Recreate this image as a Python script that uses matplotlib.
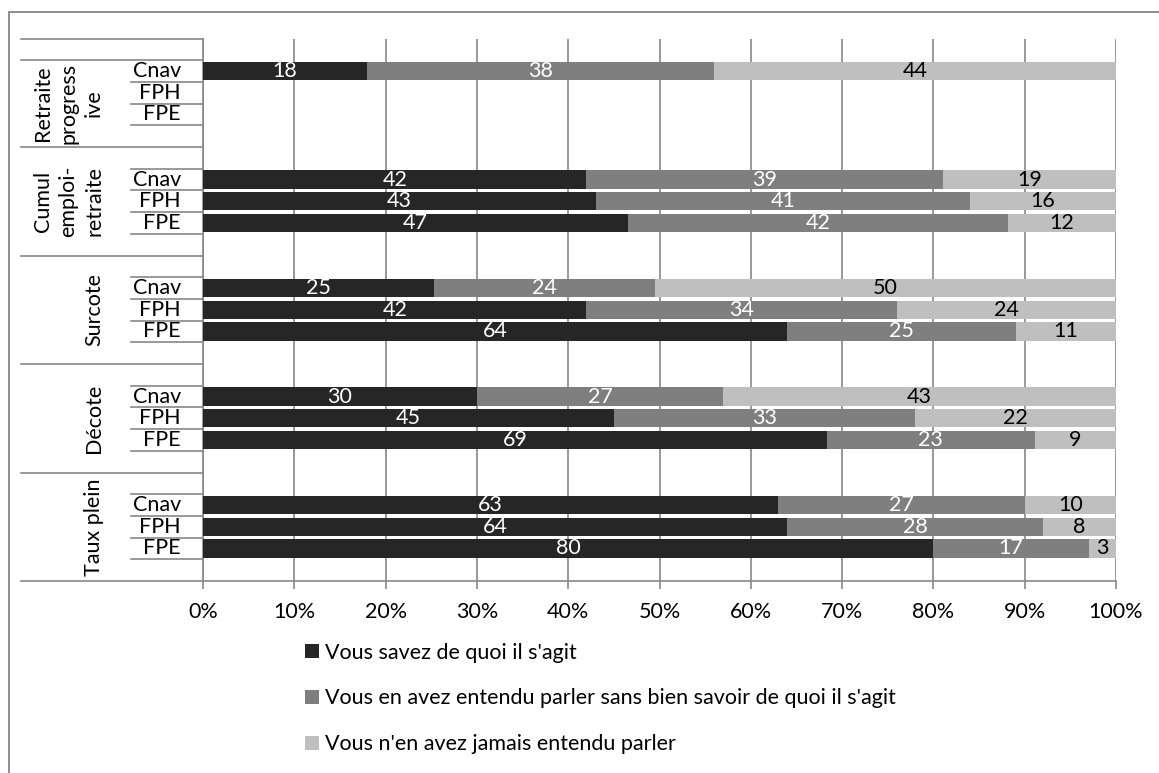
import matplotlib.pyplot as plt
from matplotlib.patches import Rectangle
from matplotlib.transforms import blended_transform_factory

plt.rcParams['font.family'] = ['Lato', 'DejaVu Sans']

# groups from bottom to top, each with regimes FPE, FPH, Cnav (bottom to top)
groups = ["Taux plein", "Décote", "Surcote", "Cumul\nemploi-\nretraite", "Retraite\nprogress\nive"]
regimes = ["FPE", "FPH", "Cnav"]

savent = [[80, 64, 63], [69, 45, 30], [64, 42, 25], [47, 43, 42], [None, None, 18]]
entendu = [[17, 28, 27], [23, 33, 27], [25, 34, 24], [42, 41, 39], [None, None, 38]]
jamais = [[3, 8, 10], [9, 22, 43], [11, 24, 50], [12, 16, 19], [None, None, 44]]

series_names = ["Vous savez de quoi il s'agit",
                "Vous en avez entendu parler sans bien savoir de quoi il s'agit",
                "Vous n'en avez jamais entendu parler"]
colors = ["#262626", "#7f7f7f", "#bfbfbf"]
label_colors = ["white", "white", "black"]
grey = "#878787"
fs = 15.5

W, H = 1159, 773
fig = plt.figure(figsize=(W / 100, H / 100), dpi=100)
ax = fig.add_axes([203 / W, 1 - 581 / H, 913 / W, 542.5 / H])

# outer frame of the chart
fig.patches.append(Rectangle((9 / W, -0.1), 1.2, 1 - 12 / H + 0.1, transform=fig.transFigure,
                             fill=False, edgecolor=grey, lw=1.3))

n_slots = 5 * len(groups)
for g, gname in enumerate(groups):
    for r, reg in enumerate(regimes):
        y = g * 5 + 1 + r + 0.5
        vals = [savent[g][r], entendu[g][r], jamais[g][r]]
        if vals[0] is None:
            continue
        total = sum(vals)
        left = 0
        for k, v in enumerate(vals):
            share = v / total * 100
            ax.barh(y, share, left=left, height=0.84, color=colors[k], zorder=3,
                    label=series_names[k] if (g == 0 and r == 0) else None)
            ax.text(left + share / 2, y, str(v), ha='center', va='center',
                    color=label_colors[k], fontsize=fs, zorder=4)
            left += share

ax.set_xlim(0, 100)
ax.set_ylim(0, n_slots)
ax.set_xticks(range(0, 101, 10))
ax.set_xticklabels([f"{t}%" for t in range(0, 101, 10)], fontsize=fs)
ax.set_yticks([])
ax.tick_params(axis='x', direction='out', length=6, width=1.2, color=grey, pad=9)
ax.grid(axis='x', color=grey, lw=1.2, zorder=0)
for s in ['top', 'right', 'bottom']:
    ax.spines[s].set_visible(False)
ax.spines['left'].set_color(grey)
ax.spines['left'].set_linewidth(1.2)

# multi-level category axis drawn left of the plot area
tr = blended_transform_factory(ax.transAxes, ax.transData)
x_long = (20.5 - 203) / 913
x_short = (131 - 203) / 913
long_lines = [0, 5, 10, 15, 20, 24, 25]
for yl in range(n_slots + 1):
    x0 = x_long if yl in long_lines else x_short
    ax.plot([x0, 1 if yl == 0 else 0], [yl, yl], transform=tr, color=grey,
            lw=1.2, clip_on=False, zorder=5)

for g, gname in enumerate(groups):
    for r, reg in enumerate(regimes):
        ax.text((181 - 203) / 913, g * 5 + 1 + r + 0.5, reg, transform=tr,
                ha='right', va='center', fontsize=fs)
    yc = g * 5 + 2.5 if g < len(groups) - 1 else g * 5 + 2
    ax.text((104 - 203) / 913, yc, gname, transform=tr, rotation=90,
            ha='right', va='center', multialignment='center', fontsize=fs,
            linespacing=1.35)

# legend in a single column below the axis
handles, labels = ax.get_legend_handles_labels()
fig.legend(handles, labels, loc='upper left', bbox_to_anchor=(296 / W, 1 - 634 / H),
           frameon=False, fontsize=fs, handlelength=0.65, handleheight=0.65,
           handletextpad=0.3, labelspacing=1.2, borderaxespad=0)

fig.savefig("out.png", dpi=100)
